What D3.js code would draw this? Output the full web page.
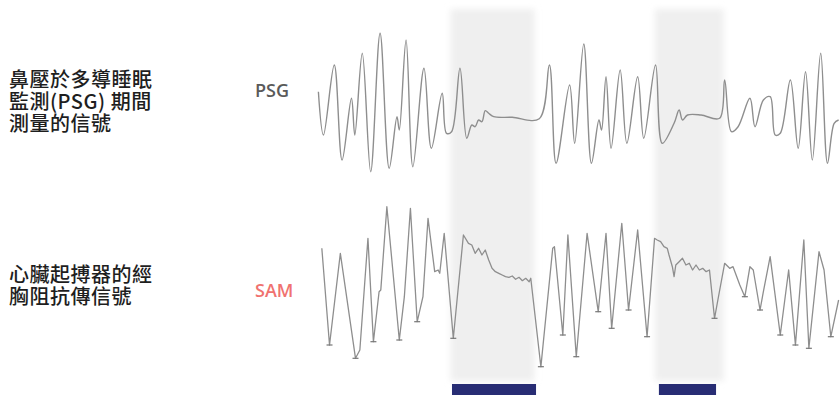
<!DOCTYPE html>
<html>
<head>
<meta charset="utf-8">
<script src="https://cdn.jsdelivr.net/npm/d3@7"></script>
<style>
  html, body { margin: 0; padding: 0; background: #fff; }
  svg { display: block; }
</style>
</head>
<body>
<svg id="chart" width="840" height="395"></svg>
<script>
// time in seconds, amplitude in arbitrary units
const psgSignal = [
  [0.83, 1.03], [1.33, -3.3], [2.4, 3.7], [3.17, -5.8], [4.1, 0.37], [4.43, -3.3],
  [5.17, 4.87], [6.0, -6.97], [6.93, 6.87], [7.83, -6.63], [8.6, -1.47], [8.83, -2.8],
  [9.5, 6.2], [10.17, -6.47], [11.27, 3.37], [12.0, -4.63], [13.07, 0.87], [13.5, -3.13],
  [14.0, -2.97], [14.83, 3.37], [15.5, -3.63], [16.0, -2.3], [16.33, -2.47], [16.67, -1.8],
  [17.0, -1.97], [17.33, -0.87], [17.67, -1.13], [18.17, -1.47], [20.0, -1.53], [22.67, -1.67],
  [23.67, 3.7], [24.33, -6.13], [25.67, 1.7], [26.17, -4.13], [27.07, 5.8], [27.83, -6.13],
  [28.57, -1.8], [28.83, -2.8], [29.27, 2.53], [29.77, -4.63], [30.67, 3.2], [31.33, -4.13],
  [32.4, 2.53], [33.0, -3.63], [34.17, 3.7], [34.83, -4.13], [36.0, -2.13], [36.5, -0.8],
  [36.83, -1.8], [37.33, -1.3], [38.67, -1.3], [40.5, -1.63], [41.0, 2.2], [41.67, -2.97],
  [42.33, -2.47], [43.5, 0.37], [44.0, -2.47], [44.83, 0.2], [45.5, 0.53], [46.0, -3.3],
  [46.5, -3.13], [47.5, 2.2], [48.27, -4.63], [49.0, 3.03], [49.67, -5.8], [50.5, 4.87],
  [51.17, -6.13], [51.83, -2.13], [52.27, -1.8]
];

const samSignal = [
  [1.17, 3.77], [1.93, -5.9], [3.0, 3.27], [4.5, -7.23], [4.93, -6.4], [5.73, 4.77],
  [6.27, -5.57], [6.83, -0.57], [7.0, -0.4], [7.6, 7.93], [8.83, -5.4], [9.33, -1.07],
  [9.93, 7.77], [10.6, -3.57], [11.17, -1.07], [11.67, 6.77], [12.33, 1.43], [12.67, 1.6],
  [12.83, 1.27], [13.27, 5.27], [14.17, -5.23], [15.17, 5.1], [15.67, 4.27], [16.0, 4.1],
  [16.33, 3.27], [16.67, 3.77], [17.0, 3.1], [17.33, 3.6], [17.67, 2.6], [18.0, 1.77],
  [18.33, 1.43], [18.67, 1.27], [19.0, 1.1], [19.33, 0.93], [19.67, 0.87], [20.0, 1.0],
  [20.33, 0.67], [20.67, 0.87], [21.0, 0.53], [21.33, 0.77], [21.67, 0.43], [21.83, 0.77],
  [22.83, -8.07], [24.0, 3.77], [24.17, 3.93], [25.0, -4.9], [25.5, 5.1], [26.33, -7.07],
  [27.4, 5.27], [28.5, -2.57], [29.27, 5.27], [29.83, -4.23], [30.83, 6.27], [31.5, -2.4],
  [32.4, 5.6], [33.33, -5.07], [34.07, 4.77], [34.33, 4.6], [34.67, 4.43], [35.0, 3.93],
  [35.33, 3.77], [35.5, 3.1], [35.83, 1.93], [36.0, 0.93], [36.17, 2.1], [36.5, 2.43],
  [36.83, 2.77], [37.17, 2.1], [37.5, 2.27], [37.83, 1.6], [38.17, 2.1], [38.5, 1.6],
  [38.83, 1.77], [39.17, 1.43], [39.5, 1.6], [40.0, -3.23], [40.33, -1.4], [41.0, 2.27],
  [41.5, 1.77], [41.83, 1.93], [42.5, 0.1], [43.0, -1.07], [43.5, 1.93], [43.83, 1.6],
  [44.5, -2.4], [44.83, -0.57], [45.5, 2.93], [46.5, -4.9], [47.33, 1.6], [48.0, -5.9],
  [48.83, 4.6], [49.33, -6.23], [50.33, 3.43], [50.83, 1.6], [51.5, -5.07], [52.27, -1.4]
];

// apnea events: shaded window and marker bar [start, end]
const apneaWindows = [[13.9, 22.2], [34.1, 40.9]];
const apneaBars = [[14.04, 22.35], [34.5, 40.15]];

const psgLabel = ['鼻壓於多導睡眠', '監測(PSG) 期間', '測量的信號'];
const samLabel = ['心臟起搏器的經', '胸阻抗傳信號'];
const traceNames = ['PSG', 'SAM'];

const svg = d3.select('#chart');
const cjk = '"Noto Sans CJK TC", "Noto Sans CJK SC", sans-serif';

const x = d3.scaleLinear().domain([0, 53]).range([310, 846]);
const yPsg = d3.scaleLinear().domain([-7, 7]).range([172, 32]);
const ySam = d3.scaleLinear().domain([-8, 8]).range([366, 206]);

// soft edges on the shaded windows
svg.append('defs').append('filter')
    .attr('id', 'soft')
    .attr('x', '-20%').attr('y', '-5%')
    .attr('width', '140%').attr('height', '110%')
    .append('feGaussianBlur')
    .attr('stdDeviation', 3);

svg.append('g')
    .selectAll('rect')
    .data(apneaWindows)
    .enter().append('rect')
    .attr('x', d => x(d[0]))
    .attr('width', d => x(d[1]) - x(d[0]))
    .attr('y', 9)
    .attr('height', 372)
    .attr('fill', '#efefef')
    .attr('filter', 'url(#soft)');

svg.append('g')
    .selectAll('rect')
    .data(apneaBars)
    .enter().append('rect')
    .attr('x', d => x(d[0]))
    .attr('width', d => x(d[1]) - x(d[0]))
    .attr('y', 384)
    .attr('height', 11)
    .attr('fill', '#282d74');

const traceColor = '#8e8e8e';

// nasal pressure is a smooth trace
svg.append('path')
    .datum(psgSignal)
    .attr('fill', 'none')
    .attr('stroke', traceColor)
    .attr('stroke-width', 1.4)
    .attr('stroke-linejoin', 'round')
    .attr('d', d3.line().curve(d3.curveCatmullRom.alpha(0.5))
        .x(d => x(d[0])).y(d => yPsg(d[1])));

svg.append('path')
    .datum(samSignal)
    .attr('fill', 'none')
    .attr('stroke', traceColor)
    .attr('stroke-width', 1.3)
    .attr('stroke-linejoin', 'round')
    .attr('d', d3.line().x(d => x(d[0])).y(d => ySam(d[1])));

// small ticks at the SAM troughs
const troughs = samSignal.filter((d, i) => i > 0 && i < samSignal.length - 1 &&
    d[1] < samSignal[i - 1][1] && d[1] < samSignal[i + 1][1] && d[1] < -1);

svg.append('g')
    .selectAll('line')
    .data(troughs)
    .enter().append('line')
    .attr('x1', d => x(d[0]) - 3)
    .attr('x2', d => x(d[0]) + 3)
    .attr('y1', d => ySam(d[1]))
    .attr('y2', d => ySam(d[1]))
    .attr('stroke', '#777')
    .attr('stroke-width', 1.2);

// trace names
svg.append('text')
    .attr('x', 255).attr('y', 97)
    .attr('font-family', '"Open Sans", sans-serif')
    .attr('font-size', 18)
    .attr('font-weight', 600)
    .attr('fill', '#5a5a5a')
    .text(traceNames[0]);

svg.append('text')
    .attr('x', 255).attr('y', 297)
    .attr('font-family', '"Open Sans", sans-serif')
    .attr('font-size', 18)
    .attr('font-weight', 600)
    .attr('fill', '#f07270')
    .text(traceNames[1]);

// left descriptions
svg.append('g')
    .selectAll('text')
    .data(psgLabel)
    .enter().append('text')
    .attr('x', 9)
    .attr('y', (d, i) => 87 + i * 22)
    .attr('font-family', cjk)
    .attr('font-size', 20)
    .attr('font-weight', 500)
    .attr('letter-spacing', 0.5)
    .attr('fill', '#1e1e1e')
    .text(d => d);

svg.append('g')
    .selectAll('text')
    .data(samLabel)
    .enter().append('text')
    .attr('x', 9)
    .attr('y', (d, i) => 282 + i * 22)
    .attr('font-family', cjk)
    .attr('font-size', 20)
    .attr('font-weight', 500)
    .attr('letter-spacing', 0.5)
    .attr('fill', '#1e1e1e')
    .text(d => d);
</script>
</body>
</html>
